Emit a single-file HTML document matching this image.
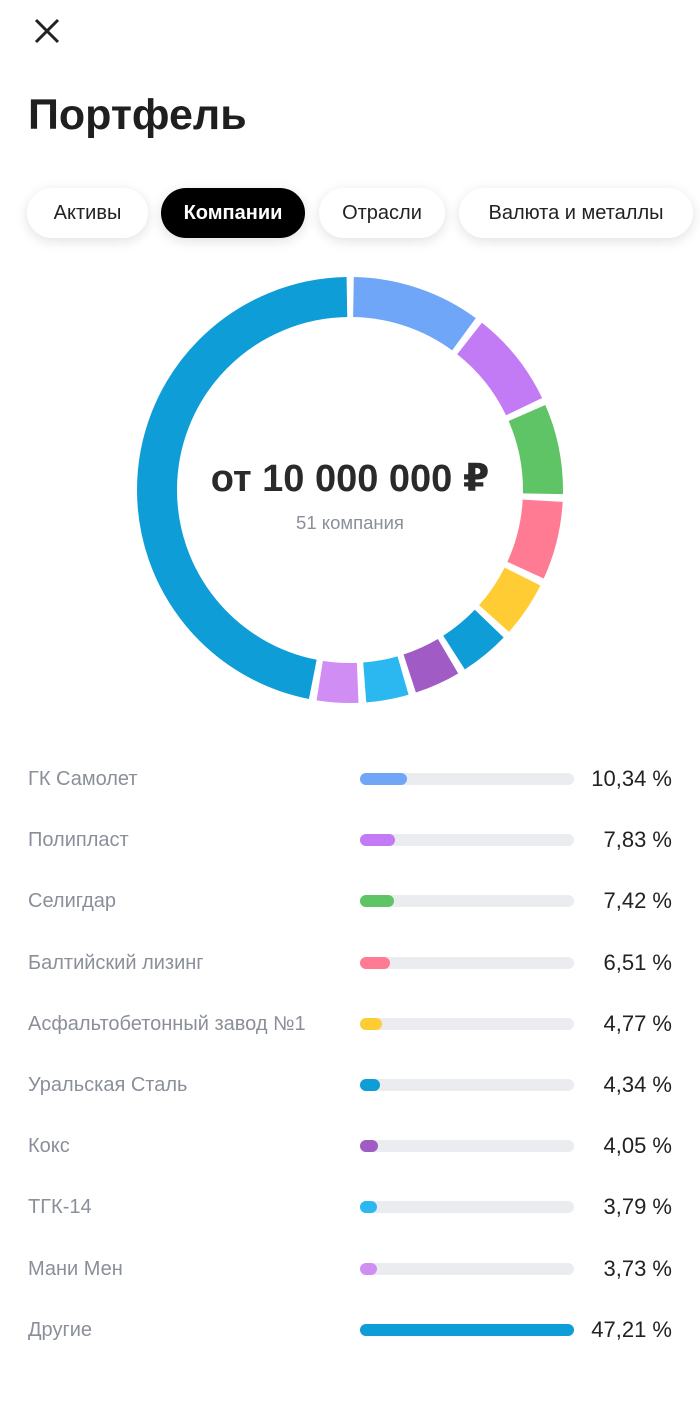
<!DOCTYPE html>
<html><head><meta charset="utf-8"><style>
body{margin:0;width:700px;height:1418px;background:#fff;font-family:"Liberation Sans","DejaVu Sans",sans-serif;position:relative;overflow:hidden;color:#222}
.t{position:absolute;left:28px;top:91px;font-size:43px;font-weight:bold;color:#1f1f1f}
.pill{position:absolute;top:188px;height:50px;border-radius:25px;background:#fff;box-shadow:0 3px 12px rgba(0,0,0,.12);font-size:20px;line-height:50px;text-align:center;color:#222}
.row{position:absolute;left:0;width:700px;height:30px}
.lab{position:absolute;left:28px;top:0;font-size:20px;color:#8a8f99;line-height:30px}
.bg{position:absolute;left:360px;top:9px;width:214px;height:12px;border-radius:6px;background:#ebecef}
.fg{position:absolute;left:0;top:0;height:12px;border-radius:6px}
.pc{position:absolute;right:28px;top:0;font-size:22px;line-height:30px;color:#222}
</style></head><body>
<svg style="position:absolute;left:33px;top:17px" width="28" height="28"><path d="M3 3L25 25M25 3L3 25" stroke="#222" stroke-width="3"/></svg>
<div class="t">Портфель</div>
<div class="pill" style="left:27px;width:121px">Активы</div>
<div class="pill" style="left:161px;width:144px;background:#000;color:#fff;font-weight:bold">Компании</div>
<div class="pill" style="left:319px;width:126px">Отрасли</div>
<div class="pill" style="left:459px;width:234px">Валюта и металлы</div>
<svg id="d" style="position:absolute;left:0;top:0" width="700" height="720"></svg>
<div style="position:absolute;left:0;width:700px;top:456px;text-align:center;font-size:38px;font-weight:bold;color:#2a2a2a">от 10 000 000 ₽</div>
<div style="position:absolute;left:0;width:700px;top:512px;text-align:center;font-size:18.5px;color:#8a8f99">51 компания</div>
<div id="list"></div>
<script>
var d=[["ГК Самолет",10.34,"#6fa6f8"],["Полипласт",7.83,"#c27af5"],["Селигдар",7.42,"#5ec466"],["Балтийский лизинг",6.51,"#ff7a93"],["Асфальтобетонный завод №1",4.77,"#ffcd33"],["Уральская Сталь",4.34,"#0e9dd6"],["Кокс",4.05,"#a05bc4"],["ТГК-14",3.79,"#2bb8f0"],["Мани Мен",3.73,"#d08ef5"],["Другие",47.21,"#0e9dd6"]];
var cx=350,cy=490,r=193,C=2*Math.PI*r,g=7,acc=0,s="",h="";
d.forEach(function(e,i){var L=e[1]/100*C-g;var off=acc*C/100+g/2;
s+='<circle cx="'+cx+'" cy="'+cy+'" r="'+r+'" fill="none" stroke="'+e[2]+'" stroke-width="40" stroke-dasharray="'+L+' '+(C-L)+'" stroke-dashoffset="'+(-off)+'" transform="rotate(-90 '+cx+' '+cy+')"/>';acc+=e[1];
var y=764+i*61.2;
h+='<div class="row" style="top:'+y+'px"><div class="lab">'+e[0]+'</div><div class="bg"><div class="fg" style="width:'+(e[1]/47.21*214)+'px;background:'+e[2]+'"></div></div><div class="pc">'+e[1].toFixed(2).replace(".",",")+' %</div></div>';});
document.getElementById("d").innerHTML=s;document.getElementById("list").innerHTML=h;
</script>
</body></html>
